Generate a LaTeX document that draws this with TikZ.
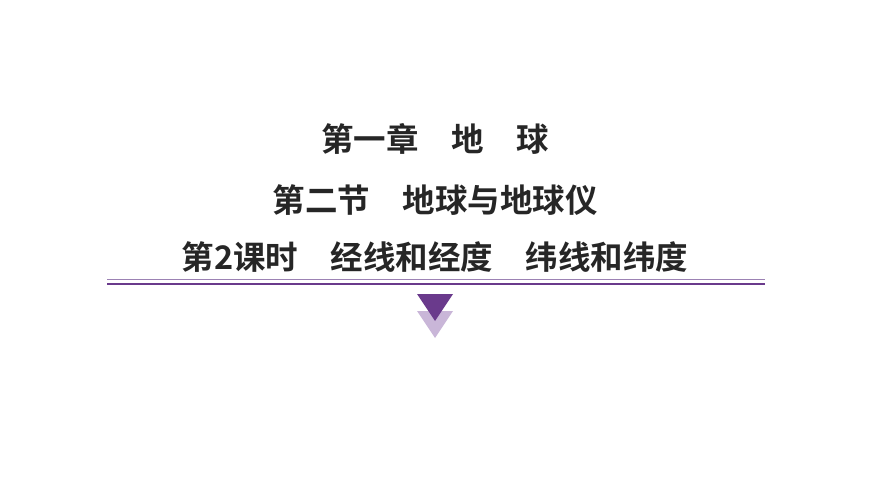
\documentclass[tikz,border=0pt]{standalone}
\usepackage{fontspec}
\newfontfamily\cjk[BoldFont={Noto Sans CJK SC Bold}]{Noto Sans CJK SC}
\definecolor{dpurple}{HTML}{6A3A8C}
\definecolor{lpurple}{HTML}{9C82B4}
\definecolor{ltri}{HTML}{C9B6D8}
\begin{document}
\begin{tikzpicture}[x=1pt,y=-1pt,
  ttl/.style={font=\cjk\bfseries\fontsize{32.5}{36}\selectfont, text=black!85, inner sep=0}]
\useasboundingbox (0,0) rectangle (870,489);
\node[ttl] (t1) at (435,139) {第一章\hspace{1em}地\hspace{1em}球};
\node[ttl] (t2) at (435,200) {第二节\hspace{1em}地球与地球仪};
\node[ttl] (t3) at (435,257) {第2课时\hspace{1em}经线和经度\hspace{1em}纬线和纬度};
\draw[lpurple, line width=1pt] (107,279) -- (765,279);
\draw[dpurple, line width=2.5pt] (107,284) -- (765,284);
\fill[ltri] (417,311) -- (453,311) -- (435,338) -- cycle;
\fill[dpurple] (417,294) -- (453,294) -- (435,321) -- cycle;
\end{tikzpicture}
\end{document}
